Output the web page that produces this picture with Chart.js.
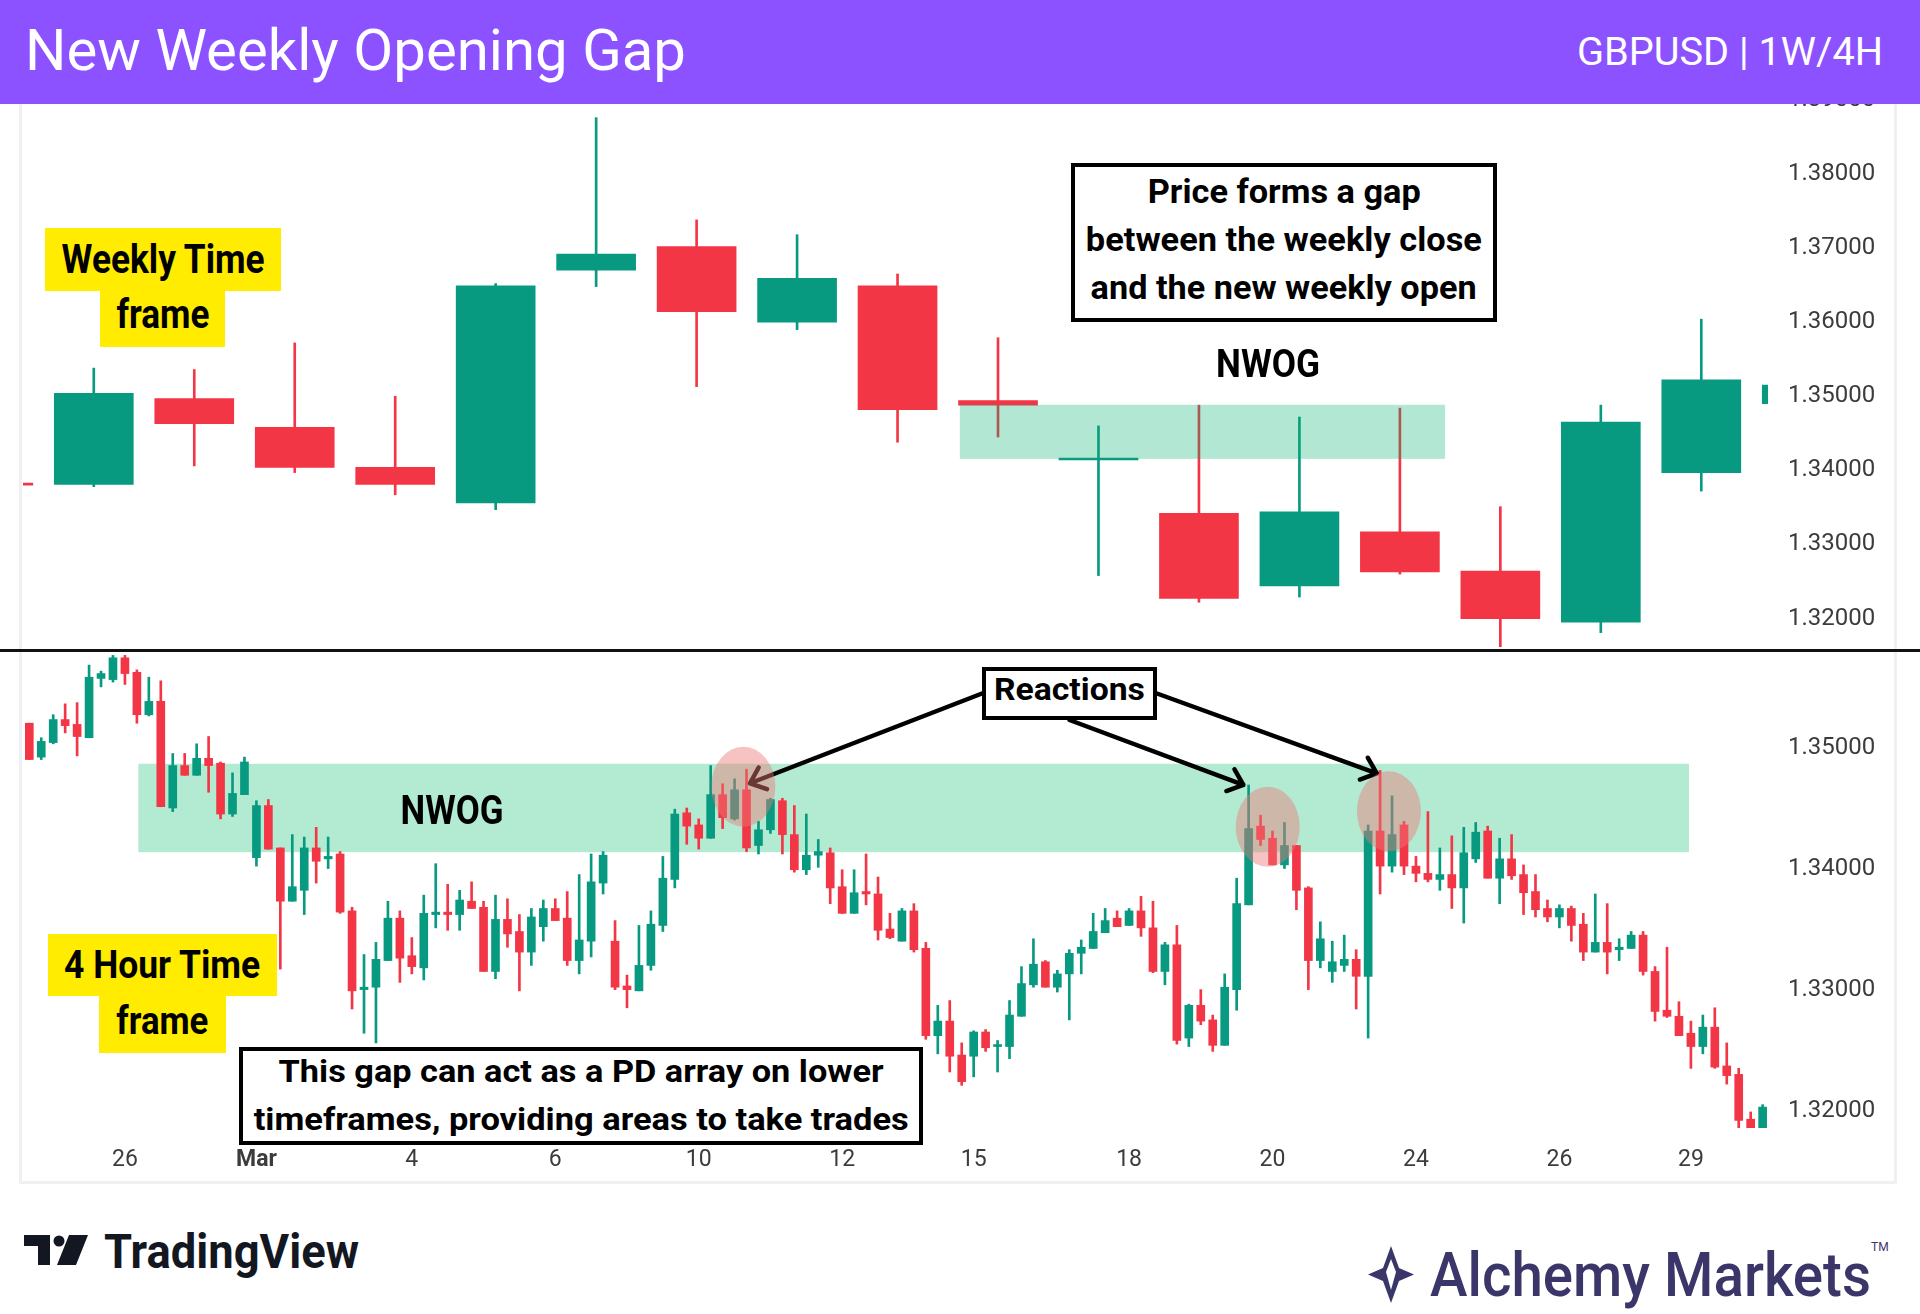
<!DOCTYPE html>
<html>
<head>
<meta charset="utf-8">
<title>New Weekly Opening Gap</title>
<script src="https://cdn.jsdelivr.net/npm/chart.js@4.4.1/dist/chart.umd.min.js"></script>
<style>
    body { margin: 0; width: 1920px; height: 1314px; background: #fff; position: relative; overflow: hidden; font-family: 'Roboto', sans-serif; }
    .abs { position: absolute; }
    .fit { display: inline-block; white-space: nowrap; transform-origin: center; }
    #topo { left: 0; top: 0; width: 1920px; height: 104px; background: #8c52ff; z-index: 5; color: #fff; }
    #moldura { left: 19px; top: 60px; width: 1878px; height: 1124px; border: 3px solid #f0f0f2; box-sizing: border-box; }
    #divisor { left: 0; top: 649px; width: 1920px; height: 3px; background: #111; z-index: 4; }
    .amarelo { background: #ffec00; text-align: center; font-weight: bold; color: #000; z-index: 6; }
    .caixa { background: #fff; border: 4px solid #000; box-sizing: border-box; text-align: center; font-weight: bold; color: #000; z-index: 6; }
    .rotulo { text-align: center; font-weight: bold; color: #000; z-index: 6; }
</style>
</head>
<body>

<div id="moldura" class="abs"></div>
<canvas id="graficoSemanal" class="abs" width="1870" height="589" style="left:23px;top:60px;"></canvas>
<canvas id="grafico4h" class="abs" width="1870" height="527" style="left:23px;top:652px;"></canvas>
<div id="divisor" class="abs"></div>

<div id="topo" class="abs">
    <div class="abs" style="left:25px;top:-2px;height:104px;line-height:104px;font-size:58px;">
        <span class="fit" data-w="661" style="transform-origin:left;">New Weekly Opening Gap</span>
    </div>
    <div class="abs" style="right:37px;top:0;height:104px;line-height:104px;font-size:38px;">
        <span class="fit" data-w="306" style="transform-origin:right;">GBPUSD | 1W/4H</span>
    </div>
</div>

<!-- anotações do painel semanal -->
<div class="abs amarelo" style="left:45px;top:228px;width:236px;height:63px;line-height:63px;font-size:40px;">
    <span class="fit" data-w="203">Weekly Time</span>
</div>
<div class="abs amarelo" style="left:100px;top:291px;width:125px;height:56px;line-height:48px;font-size:40px;">
    <span class="fit" data-w="93">frame</span>
</div>
<div class="abs caixa" style="left:1071px;top:163px;width:426px;height:159px;line-height:48px;font-size:34px;">
    <span class="fit" data-w="273">Price forms a gap</span><br>
    <span class="fit" data-w="396">between the weekly close</span><br>
    <span class="fit" data-w="386">and the new weekly open</span>
</div>
<div class="abs rotulo" style="left:1168px;top:339px;width:200px;line-height:50px;font-size:38px;">
    <span class="fit" data-w="104">NWOG</span>
</div>

<!-- anotações do painel 4h -->
<div class="abs rotulo" style="left:352px;top:786px;width:200px;line-height:50px;font-size:40px;">
    <span class="fit" data-w="103">NWOG</span>
</div>
<div id="reacoes" class="abs caixa" style="left:982px;top:667px;width:175px;height:53px;line-height:37px;font-size:31px;">
    <span class="fit" data-w="151">Reactions</span>
</div>
<div class="abs amarelo" style="left:48px;top:934px;width:229px;height:62px;line-height:62px;font-size:38px;">
    <span class="fit" data-w="196">4 Hour Time</span>
</div>
<div class="abs amarelo" style="left:99px;top:996px;width:127px;height:57px;line-height:51px;font-size:38px;">
    <span class="fit" data-w="92">frame</span>
</div>
<div class="abs caixa" style="left:239px;top:1047px;width:684px;height:98px;line-height:48px;font-size:32px;">
    <div style="margin-top:-4px;">
        <span class="fit" data-w="605">This gap can act as a PD array on lower</span><br>
        <span class="fit" data-w="655">timeframes, providing areas to take trades</span>
    </div>
</div>

<!-- rodapé com as marcas -->
<svg class="abs" style="left:24px;top:1235px;" width="65" height="30" viewBox="0 0 65 30">
    <path d="M0 0 H26 V30 H14 V11 H0 Z" fill="#131722"/>
    <circle cx="35" cy="6" r="5.5" fill="#131722"/>
    <path d="M45 0 H64 L52 30 H33 Z" fill="#131722"/>
</svg>
<div class="abs" style="left:104px;top:1222px;line-height:60px;font-size:48px;font-weight:bold;color:#131722;">
    <span class="fit" data-w="255" style="transform-origin:left;">TradingView</span>
</div>
<svg class="abs" style="left:1368px;top:1246px;" width="46" height="57" viewBox="0 0 46 57">
    <path d="M23 0 L31 22 L46 28.5 L31 35 L23 57 L15 35 L0 28.5 L15 22 Z" fill="#3b3669"/>
    <path d="M23 13 L28 26 L23 44 L18 26 Z" fill="#fff"/>
</svg>
<div class="abs" style="left:1430px;top:1240px;line-height:70px;font-size:62px;font-weight:500;color:#3b3669;">
    <span class="fit" data-w="441" style="transform-origin:left;">Alchemy Markets</span>
</div>
<div class="abs" style="left:1871px;top:1240px;font-size:12px;color:#3b3669;">TM</div>

<script>
// velas semanais (a primeira e a última aparecem cortadas nas bordas)
var semanaAbertura   = [1.3378, 1.3377, 1.3493, 1.3454, 1.3400, 1.3352, 1.3666, 1.3698, 1.3596, 1.3645, 1.3490, 1.3410, 1.3338, 1.3240, 1.3313, 1.3260, 1.3191, 1.3393, 1.3486];
var semanaMaxima     = [1.3379, 1.3534, 1.3532, 1.3568, 1.3496, 1.3648, 1.3872, 1.3734, 1.3714, 1.3661, 1.3575, 1.3456, 1.3484, 1.3468, 1.3480, 1.3347, 1.3484, 1.3600, 1.3512];
var semanaMinima     = [1.3375, 1.3374, 1.3402, 1.3393, 1.3363, 1.3343, 1.3644, 1.3509, 1.3586, 1.3434, 1.3441, 1.3254, 1.3218, 1.3225, 1.3256, 1.3158, 1.3177, 1.3368, 1.3485];
var semanaFechamento = [1.3376, 1.3500, 1.3459, 1.3400, 1.3377, 1.3645, 1.3688, 1.3610, 1.3655, 1.3478, 1.3484, 1.3411, 1.3223, 1.3340, 1.3259, 1.3196, 1.3461, 1.3518, 1.3511];
var ticksSemanal = [1.32, 1.33, 1.34, 1.35, 1.36, 1.37, 1.38, 1.39];

// velas de 4 horas
var h4Abertura = [1.3518, 1.3490, 1.3502, 1.3521, 1.3517, 1.3506, 1.3555, 1.3554, 1.3572, 1.3560,
    1.3525, 1.3536, 1.3448, 1.3483, 1.3475, 1.3489, 1.3485, 1.3443, 1.3459, 1.3407,
    1.3450, 1.3415, 1.3371, 1.3380, 1.3415, 1.3406, 1.3410, 1.3363, 1.3298, 1.3300,
    1.3322, 1.3357, 1.3326, 1.3316, 1.3360, 1.3362, 1.3360, 1.3371, 1.3366, 1.3313,
    1.3356, 1.3346, 1.3329, 1.3350, 1.3365, 1.3357, 1.3322, 1.3338, 1.3386, 1.3338,
    1.3301, 1.3297, 1.3318, 1.3351, 1.3389, 1.3444, 1.3434, 1.3423, 1.3459, 1.3439,
    1.3463, 1.3417, 1.3430, 1.3454, 1.3426, 1.3397, 1.3409, 1.3411, 1.3383, 1.3361,
    1.3379, 1.3377, 1.3348, 1.3338, 1.3363, 1.3332, 1.3260, 1.3272, 1.3244, 1.3243,
    1.3263, 1.3251, 1.3251, 1.3276, 1.3302, 1.3321, 1.3300, 1.3311, 1.3328, 1.3332,
    1.3345, 1.3357, 1.3351, 1.3363, 1.3349, 1.3313, 1.3335, 1.3258, 1.3285, 1.3273,
    1.3252, 1.3298, 1.3368, 1.3433, 1.3423, 1.3401, 1.3417, 1.3382, 1.3322, 1.3313,
    1.3318, 1.3323, 1.3309, 1.3429, 1.3400, 1.3434, 1.3400, 1.3394, 1.3389, 1.3393,
    1.3382, 1.3406, 1.3429, 1.3390, 1.3406, 1.3393, 1.3379, 1.3365, 1.3358, 1.3365,
    1.3352, 1.3329, 1.3337, 1.3331, 1.3332, 1.3343, 1.3313, 1.3281, 1.3276, 1.3262,
    1.3251, 1.3267, 1.3235, 1.3228, 1.3191, 1.3184];
var h4Maxima = [1.3518, 1.3506, 1.3525, 1.3534, 1.3535, 1.3566, 1.3561, 1.3574, 1.3574, 1.3562,
    1.3556, 1.3553, 1.3493, 1.3493, 1.3501, 1.3507, 1.3486, 1.3477, 1.3490, 1.3454,
    1.3455, 1.3415, 1.3426, 1.3424, 1.3432, 1.3424, 1.3412, 1.3366, 1.3327, 1.3337,
    1.3371, 1.3363, 1.3341, 1.3376, 1.3402, 1.3385, 1.3380, 1.3387, 1.3371, 1.3376,
    1.3373, 1.3360, 1.3365, 1.3372, 1.3373, 1.3379, 1.3393, 1.3410, 1.3412, 1.3355,
    1.3310, 1.3351, 1.3363, 1.3408, 1.3447, 1.3448, 1.3439, 1.3483, 1.3468, 1.3472,
    1.3480, 1.3437, 1.3456, 1.3456, 1.3450, 1.3443, 1.3422, 1.3415, 1.3397, 1.3397,
    1.3410, 1.3391, 1.3361, 1.3365, 1.3369, 1.3337, 1.3285, 1.3289, 1.3254, 1.3264,
    1.3265, 1.3256, 1.3289, 1.3317, 1.3340, 1.3322, 1.3314, 1.3331, 1.3339, 1.3361,
    1.3365, 1.3363, 1.3365, 1.3375, 1.3371, 1.3337, 1.3351, 1.3286, 1.3298, 1.3277,
    1.3311, 1.3390, 1.3467, 1.3442, 1.3429, 1.3436, 1.3417, 1.3383, 1.3354, 1.3338,
    1.3343, 1.3331, 1.3434, 1.3479, 1.3458, 1.3437, 1.3408, 1.3445, 1.3415, 1.3425,
    1.3432, 1.3436, 1.3433, 1.3423, 1.3426, 1.3401, 1.3393, 1.3372, 1.3368, 1.3367,
    1.3361, 1.3377, 1.3369, 1.3340, 1.3346, 1.3346, 1.3317, 1.3333, 1.3288, 1.3272,
    1.3277, 1.3283, 1.3254, 1.3233, 1.3197, 1.3203];
var h4Minima = [1.3488, 1.3488, 1.3501, 1.3510, 1.3491, 1.3506, 1.3548, 1.3552, 1.3550, 1.3518,
    1.3524, 1.3449, 1.3445, 1.3475, 1.3475, 1.3461, 1.3439, 1.3441, 1.3459, 1.3400,
    1.3414, 1.3315, 1.3371, 1.3360, 1.3386, 1.3398, 1.3361, 1.3282, 1.3262, 1.3254,
    1.3322, 1.3304, 1.3311, 1.3306, 1.3349, 1.3347, 1.3347, 1.3365, 1.3313, 1.3307,
    1.3333, 1.3297, 1.3318, 1.3338, 1.3355, 1.3318, 1.3311, 1.3325, 1.3377, 1.3298,
    1.3283, 1.3297, 1.3314, 1.3346, 1.3382, 1.3418, 1.3414, 1.3423, 1.3431, 1.3438,
    1.3412, 1.3410, 1.3427, 1.3410, 1.3395, 1.3393, 1.3399, 1.3369, 1.3361, 1.3361,
    1.3368, 1.3339, 1.3340, 1.3338, 1.3329, 1.3257, 1.3245, 1.3230, 1.3219, 1.3226,
    1.3247, 1.3230, 1.3241, 1.3276, 1.3300, 1.3300, 1.3296, 1.3273, 1.3311, 1.3332,
    1.3345, 1.3350, 1.3351, 1.3342, 1.3312, 1.3302, 1.3253, 1.3251, 1.3269, 1.3247,
    1.3252, 1.3281, 1.3368, 1.3417, 1.3401, 1.3398, 1.3364, 1.3298, 1.3316, 1.3304,
    1.3313, 1.3282, 1.3258, 1.3377, 1.3395, 1.3393, 1.3387, 1.3387, 1.3380, 1.3365,
    1.3353, 1.3403, 1.3390, 1.3369, 1.3389, 1.3360, 1.3358, 1.3354, 1.3349, 1.3338,
    1.3322, 1.3329, 1.3311, 1.3322, 1.3332, 1.3310, 1.3272, 1.3275, 1.3260, 1.3233,
    1.3245, 1.3233, 1.3220, 1.3184, 1.3184, 1.3184];
var h4Fechamento = [1.3488, 1.3503, 1.3521, 1.3516, 1.3507, 1.3556, 1.3559, 1.3572, 1.3559, 1.3525,
    1.3536, 1.3449, 1.3483, 1.3475, 1.3489, 1.3483, 1.3443, 1.3460, 1.3486, 1.3450,
    1.3414, 1.3371, 1.3383, 1.3415, 1.3404, 1.3408, 1.3362, 1.3297, 1.3300, 1.3323,
    1.3357, 1.3324, 1.3317, 1.3361, 1.3362, 1.3360, 1.3372, 1.3365, 1.3313, 1.3356,
    1.3344, 1.3329, 1.3358, 1.3365, 1.3355, 1.3322, 1.3339, 1.3387, 1.3409, 1.3300,
    1.3298, 1.3318, 1.3352, 1.3390, 1.3443, 1.3433, 1.3423, 1.3459, 1.3440, 1.3463,
    1.3415, 1.3430, 1.3455, 1.3426, 1.3397, 1.3409, 1.3412, 1.3382, 1.3361, 1.3378,
    1.3377, 1.3347, 1.3341, 1.3363, 1.3331, 1.3260, 1.3272, 1.3243, 1.3222, 1.3263,
    1.3250, 1.3252, 1.3277, 1.3303, 1.3319, 1.3300, 1.3311, 1.3328, 1.3333, 1.3346,
    1.3355, 1.3350, 1.3363, 1.3349, 1.3313, 1.3335, 1.3256, 1.3285, 1.3272, 1.3252,
    1.3300, 1.3369, 1.3431, 1.3422, 1.3401, 1.3417, 1.3380, 1.3322, 1.3340, 1.3321,
    1.3323, 1.3309, 1.3429, 1.3400, 1.3426, 1.3400, 1.3394, 1.3389, 1.3393, 1.3382,
    1.3411, 1.3428, 1.3390, 1.3406, 1.3392, 1.3378, 1.3364, 1.3358, 1.3365, 1.3351,
    1.3329, 1.3337, 1.3329, 1.3333, 1.3343, 1.3313, 1.3280, 1.3276, 1.3260, 1.3251,
    1.3267, 1.3234, 1.3227, 1.3190, 1.3184, 1.3201];
var ticks4h = [1.32, 1.33, 1.34, 1.35];
var posicoesDias = [8, 19, 32, 44, 56, 68, 79, 92, 104, 116, 128, 139];
var rotulosDias = ['26', 'Mar', '4', '6', '10', '12', '15', '18', '20', '24', '26', '29'];

// o gap (NWOG) entre o fechamento semanal e a nova abertura
var gapTopo = 1.34845;
var gapBase = 1.34115;
var gapSemanalInicio = 9.62;
var gapSemanalFim = 14.45;
var gap4hInicio = 9.12;
var gap4hFim = 138.84;

// reações marcadas no 4h
var reacoesX = [59.73, 103.6, 113.74];
var reacoesY = [1.34656, 1.34325, 1.34452];
var setasX = [60.29, 101.56, 112.72];
var setasY = [1.34684, 1.3467, 1.34766];

var VERDE = '#089981';
var VERMELHO = '#f23645';

function montarVelas(abertura, maxima, minima, fechamento) {
    var corpos = [];
    var pavios = [];
    var cores = [];
    for (var i = 0; i < abertura.length; i++) {
        corpos.push({ x: i, y: [abertura[i], fechamento[i]] });
        pavios.push({ x: i, y: [minima[i], maxima[i]] });
        cores.push(fechamento[i] >= abertura[i] ? VERDE : VERMELHO);
    }
    return { corpos: corpos, pavios: pavios, cores: cores };
}

function eixoPreco(min, max, valores) {
    return {
        position: 'right',
        min: min,
        max: max,
        beginAtZero: false,
        grid: { display: false, drawTicks: false },
        border: { display: false },
        ticks: {
            padding: 20,
            labelOffset: 3,
            color: '#3c3c3c',
            font: { family: 'Roboto', size: 24 },
            callback: function (valor) { return Number(valor).toFixed(5); }
        },
        afterBuildTicks: function (escala) {
            escala.ticks = valores.map(function (v) { return { value: v }; });
        },
        afterFit: function (escala) {
            escala.width = 125;
            escala.paddingTop = 0;
            escala.paddingBottom = 0;
            escala.paddingLeft = 0;
            escala.paddingRight = 0;
        }
    };
}

function datasetsVelas(velas, larguraCorpo) {
    return [
        { data: velas.pavios, backgroundColor: velas.cores, barThickness: 2, minBarLength: 1, grouped: false, order: 2 },
        { data: velas.corpos, backgroundColor: velas.cores, barThickness: larguraCorpo, minBarLength: 2, grouped: false, order: 1 }
    ];
}

function recortarArea(chart) {
    var area = chart.chartArea;
    chart.ctx.beginPath();
    chart.ctx.rect(area.left, area.top, area.right - area.left, area.bottom - area.top);
    chart.ctx.clip();
}

// zona do gap no semanal, por cima das velas
var pluginGapSemanal = {
    id: 'gapSemanal',
    afterDatasetsDraw: function (chart) {
        var ctx = chart.ctx;
        var x = chart.scales.x;
        var y = chart.scales.y;
        ctx.save();
        recortarArea(chart);
        var x1 = x.getPixelForValue(gapSemanalInicio);
        var x2 = x.getPixelForValue(gapSemanalFim);
        var y1 = y.getPixelForValue(gapTopo);
        var y2 = y.getPixelForValue(gapBase);
        ctx.fillStyle = 'rgba(0, 180, 110, 0.3)';
        ctx.fillRect(x1, y1, x2 - x1, y2 - y1);
        ctx.restore();
    }
};

function desenharSeta(ctx, x0, y0, x1, y1) {
    var angulo = Math.atan2(y1 - y0, x1 - x0);
    var braco = 18;
    ctx.beginPath();
    ctx.moveTo(x0, y0);
    ctx.lineTo(x1, y1);
    ctx.moveTo(x1 - braco * Math.cos(angulo - 0.7), y1 - braco * Math.sin(angulo - 0.7));
    ctx.lineTo(x1, y1);
    ctx.lineTo(x1 - braco * Math.cos(angulo + 0.7), y1 - braco * Math.sin(angulo + 0.7));
    ctx.stroke();
}

// zona do gap atrás das velas, setas e círculos por cima
var pluginGap4h = {
    id: 'gap4h',
    beforeDatasetsDraw: function (chart) {
        var ctx = chart.ctx;
        var x = chart.scales.x;
        var y = chart.scales.y;
        ctx.save();
        recortarArea(chart);
        var x1 = x.getPixelForValue(gap4hInicio);
        var x2 = x.getPixelForValue(gap4hFim);
        var y1 = y.getPixelForValue(gapTopo);
        var y2 = y.getPixelForValue(gapBase);
        ctx.fillStyle = '#b2ebd2';
        ctx.fillRect(x1, y1, x2 - x1, y2 - y1);
        ctx.restore();
    },
    afterDatasetsDraw: function (chart) {
        var ctx = chart.ctx;
        var x = chart.scales.x;
        var y = chart.scales.y;
        var tela = chart.canvas.getBoundingClientRect();
        var caixa = document.getElementById('reacoes').getBoundingClientRect();
        var meioY = (caixa.top + caixa.bottom) / 2 - tela.top;
        var caudas = [
            [caixa.left - tela.left, meioY],
            [(caixa.left + caixa.right) / 2 - tela.left, caixa.bottom - tela.top],
            [caixa.right - tela.left, meioY]
        ];

        ctx.save();
        ctx.strokeStyle = '#000';
        ctx.lineWidth = 4.5;
        ctx.lineCap = 'round';
        ctx.lineJoin = 'round';
        for (var i = 0; i < setasX.length; i++) {
            desenharSeta(ctx, caudas[i][0], caudas[i][1], x.getPixelForValue(setasX[i]), y.getPixelForValue(setasY[i]));
        }

        ctx.fillStyle = 'rgba(235, 120, 120, 0.45)';
        for (var j = 0; j < reacoesX.length; j++) {
            ctx.beginPath();
            ctx.ellipse(x.getPixelForValue(reacoesX[j]), y.getPixelForValue(reacoesY[j]), 32, 40, 0, 0, Math.PI * 2);
            ctx.fill();
        }
        ctx.restore();
    }
};

// criando o gráfico semanal
function graficoSemanal() {
    var velas = montarVelas(semanaAbertura, semanaMaxima, semanaMinima, semanaFechamento);
    var ctx = document.getElementById('graficoSemanal').getContext('2d');
    new Chart(ctx, {
        type: 'bar',
        data: { datasets: datasetsVelas(velas, 79) },
        options: {
            responsive: false,
            animation: false,
            devicePixelRatio: 1,
            layout: { padding: 0 },
            plugins: { legend: { display: false }, tooltip: { enabled: false } },
            scales: {
                x: { type: 'linear', min: 0.2953, max: 17.664, offset: false, display: false },
                y: eixoPreco(1.31549, 1.39498, ticksSemanal)
            }
        },
        plugins: [pluginGapSemanal]
    });
}

// criando o gráfico de 4 horas
function grafico4h() {
    var velas = montarVelas(h4Abertura, h4Maxima, h4Minima, h4Fechamento);
    var ctx = document.getElementById('grafico4h').getContext('2d');
    new Chart(ctx, {
        type: 'bar',
        data: { datasets: datasetsVelas(velas, 8) },
        options: {
            responsive: false,
            animation: false,
            devicePixelRatio: 1,
            layout: { padding: 0 },
            plugins: { legend: { display: false }, tooltip: { enabled: false } },
            scales: {
                x: {
                    type: 'linear',
                    min: -0.527,
                    max: 145.45,
                    offset: false,
                    grid: { display: false, drawTicks: false },
                    border: { display: false },
                    ticks: {
                        padding: 6,
                        autoSkip: false,
                        maxRotation: 0,
                        minRotation: 0,
                        color: '#3c3c3c',
                        font: function (contexto) {
                            var mes = contexto.tick && contexto.tick.label === 'Mar';
                            return { family: 'Roboto', size: 23, weight: mes ? 'bold' : 'normal' };
                        },
                        callback: function (valor) {
                            var i = posicoesDias.indexOf(valor);
                            return i >= 0 ? rotulosDias[i] : '';
                        }
                    },
                    afterBuildTicks: function (escala) {
                        escala.ticks = posicoesDias.map(function (v) { return { value: v }; });
                    },
                    afterFit: function (escala) {
                        escala.height = 39;
                        escala.paddingLeft = 0;
                        escala.paddingRight = 0;
                        escala.paddingTop = 0;
                        escala.paddingBottom = 0;
                    }
                },
                y: eixoPreco(1.317383, 1.35768, ticks4h)
            }
        },
        plugins: [pluginGap4h]
    });
}

function ajustarTextos() {
    document.querySelectorAll('.fit').forEach(function (el) {
        el.style.transform = 'none';
        var largura = el.getBoundingClientRect().width;
        el.style.transform = 'scaleX(' + (parseFloat(el.dataset.w) / largura).toFixed(4) + ')';
    });
}

ajustarTextos();
graficoSemanal();
grafico4h();
document.fonts.ready.then(ajustarTextos);
</script>
</body>
</html>
